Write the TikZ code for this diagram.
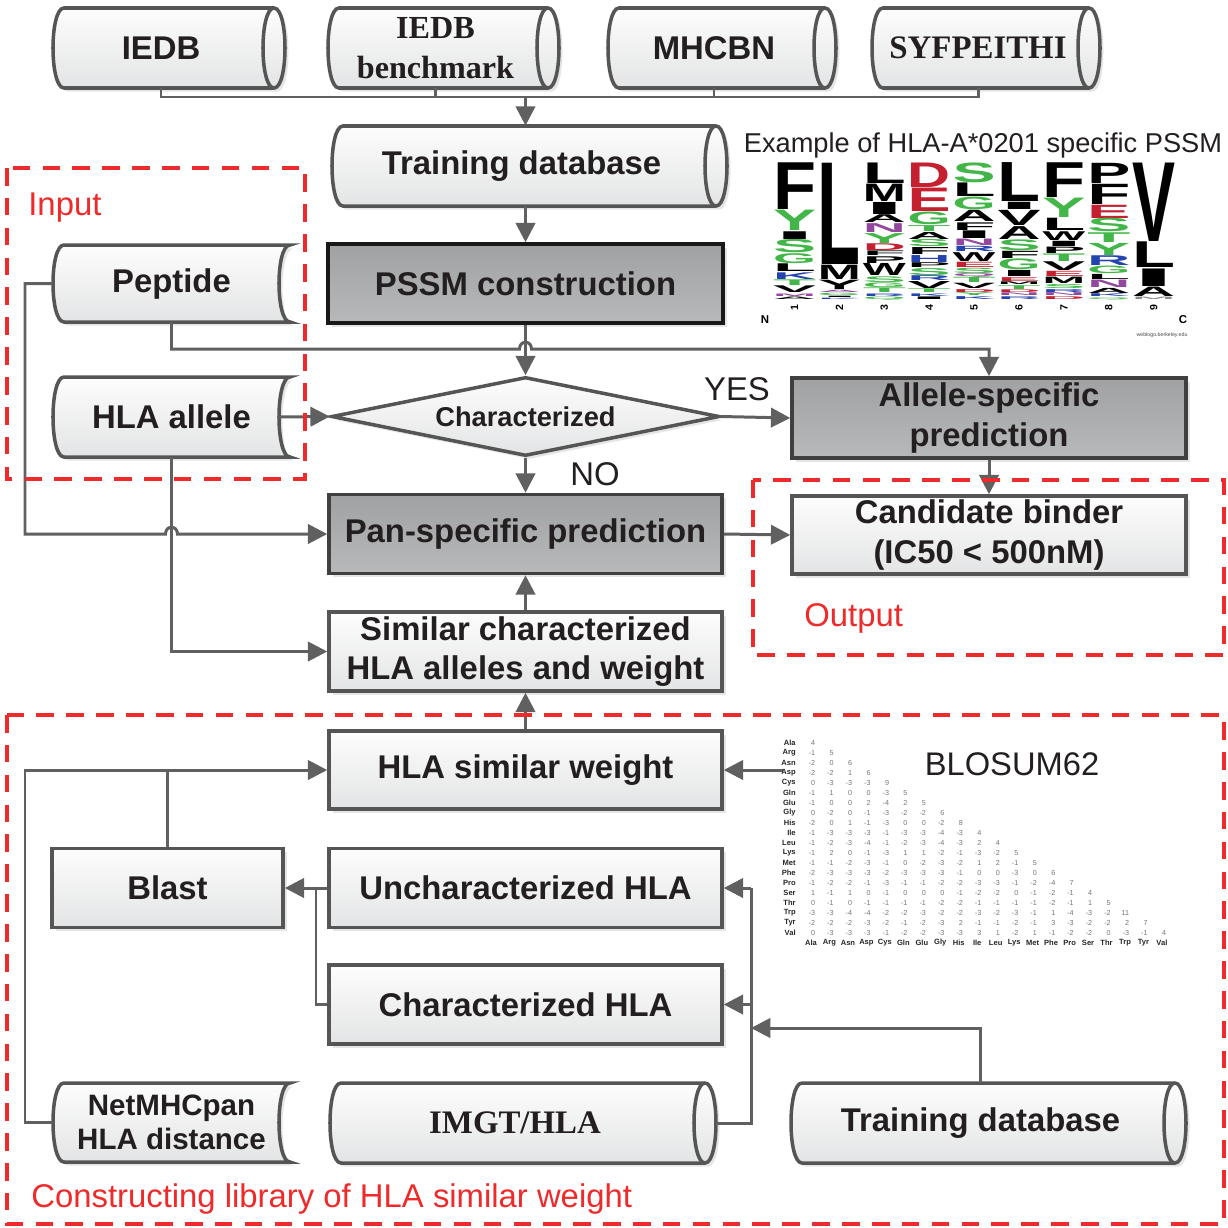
\documentclass[tikz,border=0pt]{standalone}
\usepackage{fontspec}
\setmainfont{Liberation Sans}
\newfontfamily\serifb{Liberation Serif}
\newfontfamily\logof{Liberation Sans}
\usepackage{graphicx}
\usetikzlibrary{arrows.meta,shadows,shapes.geometric}
\newlength\pxu
\setlength\pxu{0.02cm}
\definecolor{lineg}{HTML}{606060}
\definecolor{boxb}{HTML}{555555}
\definecolor{redd}{HTML}{EE2A2A}
\definecolor{txt}{HTML}{231F20}
\definecolor{lgA}{HTML}{FDFDFD}
\definecolor{lgB}{HTML}{E3E4E5}
\definecolor{dkA}{HTML}{A0A1A3}
\definecolor{dkB}{HTML}{B8B9BB}
\definecolor{lk}{HTML}{000000}
\definecolor{lgn}{HTML}{43B649}
\definecolor{lr}{HTML}{C42030}
\definecolor{lb}{HTML}{2343AE}
\definecolor{lp}{HTML}{93479E}
\definecolor{lgy}{HTML}{888888}
\definecolor{matg}{HTML}{777777}
\newcommand\btxt{\fontsize{18.7}{22.5}\selectfont\bfseries}
\newcommand\rtxt{\fontsize{18.7}{22.5}\selectfont}
\tikzset{
 conn/.style={draw=lineg, line width=1.7pt},
 arr/.style={conn, -{Triangle[length=11pt,width=11pt]}},
 shad/.style={drop shadow={fill=black!25, opacity=0.4, shadow xshift=2pt, shadow yshift=-2pt}},
 lightbox/.style={draw=boxb, line width=2pt, top color=lgA, bottom color=lgB, shad},
 darkbox/.style={draw=boxb!75!black, line width=2pt, top color=dkA, bottom color=dkB, shad},
 boxtxt/.style={font=\btxt, text=txt, align=center},
 redbox/.style={draw=redd, line width=2.2pt, dash pattern=on 10pt off 7pt},
 redtxt/.style={font=\rtxt, text=redd, inner sep=0},
 mlab/.style={font=\fontsize{4.3}{5}\selectfont\bfseries, text=black!85, inner sep=0},
 mval/.style={font=\fontsize{4.1}{5}\selectfont, text=matg, inner sep=0}
}
% horizontal cylinder: name, x1, y1, x2, y2, font, text
\newcommand\cyl[7]{%
 \path[lightbox] (#2+11,#3) -- (#4-11,#3) .. controls (#4+3.67,#3) and (#4+3.67,#5) .. (#4-11,#5) -- (#2+11,#5) .. controls (#2-3.67,#5) and (#2-3.67,#3) .. (#2+11,#3) -- cycle;
 \draw[draw=boxb, line width=2pt] (#4-11,#3) .. controls (#4-25.67,#3) and (#4-25.67,#5) .. (#4-11,#5);
 \node[boxtxt, font=#6, inner sep=0, minimum width={(#4-#2-16)*0.02cm}, minimum height={(#5-#3)*0.02cm}] (#1) at ({(#2+#4-16)/2},{(#3+#5)/2}) {#7};
}
% stored data shape: name, x1, y1, x2, y2, font, text
\newcommand\sdata[7]{%
 \path[lightbox] (#2+11,#3) -- (#4,#3) .. controls (#4-14.67,#3) and (#4-14.67,#5) .. (#4,#5) -- (#2+11,#5) .. controls (#2-3.67,#5) and (#2-3.67,#3) .. (#2+11,#3) -- cycle;
 \node[boxtxt, font=#6, inner sep=0, minimum width={(#4-#2)*0.02cm}, minimum height={(#5-#3)*0.02cm}] (#1) at ({(#2+#4)/2},{(#3+#5)/2}) {#7};
}
% logo column
\newcommand\logocol[2]{%
 \gdef\lacc{0}%
 \foreach \lhh/\lcol/\llet in {#2}{\pgfmathsetmacro\ltmp{\lacc+\lhh}\xdef\lacc{\ltmp}}%
 \pgfmathsetmacro\lsc{137/\lacc}%
 \gdef\lyy{163}%
 \foreach \lhh/\lcol/\llet [count=\li] in {#2}{%
  \pgfmathsetmacro\lhgt{max(\lhh*\lsc-0.7,0.6)}%
  \node[inner sep=0, outer sep=0, anchor=north west] (lg#1-\li) at (#1,\lyy) {\resizebox{43\pxu}{\lhgt\pxu}{\color{\lcol}\logof\bfseries\llet}};%
  \pgfmathsetmacro\ltmp{\lyy+\lhh*\lsc}\xdef\lyy{\ltmp}%
 }%
}
\begin{document}
\begin{tikzpicture}[x=0.02cm, y=-0.02cm]
\fill[white] (0,0) rectangle (1228,1228);
\useasboundingbox (0,0) rectangle (1228,1228);

% ---- top databases
\cyl{iedb}{53}{8}{285}{88}{\btxt}{IEDB}
\cyl{bench}{328}{8}{559}{88}{\serifb\fontsize{18.3}{23}\selectfont\bfseries}{IEDB\\benchmark}
\cyl{mhcbn}{608}{8}{836}{88}{\btxt}{MHCBN}
\cyl{syf}{872}{8}{1100}{88}{\serifb\fontsize{18.7}{22}\selectfont\bfseries}{SYFPEITHI}
\cyl{train}{332}{126}{727}{206}{\btxt}{Training database}

% ---- main column
\node[darkbox, draw=black!90, boxtxt, inner sep=0, minimum width=395\pxu, minimum height=79\pxu] (pssm) at (525.5,283.5) {PSSM construction};
\node[diamond, aspect=4.9, minimum width=388\pxu, minimum height=79\pxu, inner sep=0, draw=boxb, line width=2pt, top color=lgA, bottom color=lgB, shad, font=\fontsize{15.5}{18}\selectfont\bfseries, text=txt] (dia) at (525.5,416.5) {Characterized};
\node[darkbox, boxtxt, inner sep=0, minimum width=394\pxu, minimum height=80\pxu] (allele) at (989,418) {Allele-specific\\prediction};
\node[darkbox, boxtxt, inner sep=0, minimum width=393\pxu, minimum height=79\pxu] (pan) at (525.5,534) {Pan-specific prediction};
\node[lightbox, boxtxt, inner sep=0, minimum width=394\pxu, minimum height=78\pxu] (cand) at (989,535) {Candidate binder\\(IC50 < 500nM)};
\node[lightbox, boxtxt, inner sep=0, minimum width=393\pxu, minimum height=79\pxu] (sim) at (525.5,651.5) {Similar characterized\\HLA alleles and weight};
\node[lightbox, boxtxt, inner sep=0, minimum width=393\pxu, minimum height=78\pxu] (hsw) at (525.5,770) {HLA similar weight};
\node[lightbox, boxtxt, inner sep=0, minimum width=393\pxu, minimum height=79\pxu] (unc) at (525.5,888) {Uncharacterized HLA};
\node[lightbox, boxtxt, inner sep=0, minimum width=393\pxu, minimum height=79\pxu] (chr) at (525.5,1004.5) {Characterized HLA};
\node[lightbox, boxtxt, inner sep=0, minimum width=231\pxu, minimum height=79\pxu] (blast) at (167.5,888) {Blast};

% ---- inputs and bottom stores
\sdata{pep}{53}{245}{290}{322}{\btxt}{Peptide}
\sdata{hla}{53}{377}{290}{457}{\btxt}{HLA allele}
\sdata{net}{53}{1083}{290}{1162}{\fontsize{16.8}{19}\selectfont\bfseries}{NetMHCpan\\HLA distance}
\cyl{imgt}{330}{1083}{716}{1163}{\serifb\fontsize{18.7}{22}\selectfont\bfseries}{IMGT/HLA}
\cyl{trn2}{791}{1083}{1186}{1163}{\btxt}{Training database}

% ---- helper coordinates
\coordinate (bus) at (0,97);
\coordinate (py) at (0,349);
\coordinate (lx) at (25,0);
\coordinate (jx) at (316,0);
\coordinate (rx) at (751,0);
\coordinate (tj) at (751,1028);
\coordinate (blos) at (783,0);

% ---- connectors
\draw[conn] (iedb.south) |- (bus -| syf.south) -- (syf.south);
\draw[conn] (bench.south) -- (bench.south |- bus);
\draw[conn] (mhcbn.south) -- (mhcbn.south |- bus);
\draw[arr] (bus -| pssm.north) -- (pssm.north |- train.north);
\draw[arr] (pssm.north |- train.south) -- (pssm.north);
\draw[arr] (pssm.south) -- (dia.north);
\draw[arr] (pep.south) -- (pep.south |- py) -- (519.5,349) .. controls (519.5,340) and (531.5,340) .. (531.5,349) -- (allele.north |- py) -- (allele.north);
\draw[arr] ([xshift=-0.24cm]hla.east) -- (dia.west);
\draw[arr] (dia.east) -- (allele.west);
\draw[arr] (dia.south) -- (pan.north);
\draw[arr] (allele.south) -- (cand.north);
\draw[arr] (pep.west) -- (pep.west -| lx) -- (lx |- pan.west) -- (165.5,534) .. controls (165.5,525) and (177.5,525) .. (177.5,534) -- (pan.west);
\draw[arr] (hla.south) -- (hla.south |- sim.west) -- (sim.west);
\draw[arr] (pan.east) -- (cand.west);
\draw[arr] (sim.north) -- (pan.south);
\draw[arr] (hsw.north) -- (sim.south);
\draw[arr] (hsw.east -| blos) -- (hsw.east);
\draw[arr] (net.west) -| (lx |- hsw.west) -- (hsw.west);
\draw[conn] (blast.north) -- (blast.north |- hsw.west);
\draw[arr] (unc.west) -- (blast.east);
\draw[conn] (chr.west) -- (chr.west -| jx) -- (jx |- unc.west);
\draw[conn] ([xshift=0.32cm]imgt.east) -| (rx |- unc.east);
\draw[arr] (rx |- unc.east) -- (unc.east);
\draw[arr] (rx |- chr.east) -- (chr.east);
\draw[arr] (trn2.north) |- (tj);

% ---- labels
\node[font=\rtxt, text=txt, inner sep=0, anchor=base] (yes) at (737,400) {YES};
\node[font=\rtxt, text=txt, inner sep=0, anchor=base] (no) at (595,485) {NO};
\node[font=\fontsize{15.5}{18}\selectfont, text=txt, inner sep=0, anchor=base] (ttl) at (983,152) {Example of HLA-A*0201 specific PSSM};
\node[font=\fontsize{18.6}{22}\selectfont, text=txt, inner sep=0, anchor=base] (blt) at (1012,775) {BLOSUM62};

% ---- sequence logo
\logocol{773}{45/lk/F, 20/lgn/Y, 8/lk/I, 13/lgn/S, 10/lgn/G, 8/lk/L, 7/lb/K, 6/lgn/T, 7/lk/V, 3/lp/M, 3/lk/A}
\logocol{817.9}{102/lk/L, 15/lk/M, 10/lk/Y, 3/lp/A, 3/lgn/G, 2/lk/I, 2/lb/K}
\logocol{862.8}{20/lk/L, 17/lk/M, 12/lk/I, 8/lk/A, 9/lp/N, 10/lgn/Y, 7/lr/D, 5/lk/F, 7/lk/P, 12/lk/W, 6/lgn/S, 5/lgn/G, 5/lgn/T, 3/lb/R, 3/lgn/Q}
\logocol{907.7}{23/lr/D, 22/lr/E, 12/lgn/G, 6/lgn/T, 7/lk/A, 7/lgn/S, 7/lk/F, 7/lb/H, 5/lk/P, 7/lgn/S, 5/lb/R, 7/lk/V, 4/lgn/T, 3/lb/K, 3/lk/I}
\logocol{952.6}{17/lgn/S, 12/lk/L, 11/lgn/G, 10/lk/A, 7/lk/F, 7/lk/I, 6/lp/N, 5/lb/R, 8/lk/W, 5/lr/E, 5/lgn/S, 3/lp/Q, 5/lgn/T, 5/lk/V, 3/lr/D, 3/lgn/Y, 3/lb/K}
\logocol{997.5}{35/lk/L, 7/lk/I, 14/lk/V, 12/lk/A, 10/lgn/S, 7/lk/F, 10/lgn/G, 6/lk/I, 4/lr/E, 3/lk/M, 4/lgn/T, 3/lr/D, 3/lp/N, 3/lb/R}
\logocol{1042.4}{30/lk/F, 17/lgn/Y, 11/lk/L, 8/lk/W, 5/lk/I, 6/lk/P, 7/lgn/T, 8/lk/V, 5/lr/E, 6/lk/M, 4/lgn/S, 3/lb/R, 3/lp/N, 3/lr/D}
\logocol{1087.3}{18/lk/P, 18/lk/F, 12/lr/E, 12/lgn/S, 9/lgn/T, 11/lgn/Y, 9/lb/R, 7/lgn/G, 5/lk/L, 7/lp/N, 5/lk/A, 3/lb/K, 2/lgn/Q}
\logocol{1132.2}{78/lk/V, 26/lk/L, 18/lk/I, 10/lk/A, 3/lgy/M}
\foreach \i in {1,...,9}{
 \node[rotate=90, font=\fontsize{6}{6}\selectfont\bfseries, inner sep=0] (pos\i) at ({794.5+(\i-1)*44.9},308) {\i};
}
\node[font=\fontsize{6.5}{7}\selectfont\bfseries, inner sep=0] (nlab) at (765,320) {N};
\node[font=\fontsize{6.5}{7}\selectfont\bfseries, inner sep=0] (clab) at (1183,320) {C};
\node[font=\fontsize{3}{3.5}\selectfont, text=black!70, inner sep=0] (wlab) at (1162,335) {weblogo.berkeley.edu};

% ---- BLOSUM62 matrix
\foreach \lab/\vals [count=\rw] in {Ala/{4},Arg/{-1,5},Asn/{-2,0,6},Asp/{-2,-2,1,6},Cys/{0,-3,-3,-3,9},Gln/{-1,1,0,0,-3,5},Glu/{-1,0,0,2,-4,2,5},Gly/{0,-2,0,-1,-3,-2,-2,6},His/{-2,0,1,-1,-3,0,0,-2,8},Ile/{-1,-3,-3,-3,-1,-3,-3,-4,-3,4},Leu/{-1,-2,-3,-4,-1,-2,-3,-4,-3,2,4},Lys/{-1,2,0,-1,-3,1,1,-2,-1,-3,-2,5},Met/{-1,-1,-2,-3,-1,0,-2,-3,-2,1,2,-1,5},Phe/{-2,-3,-3,-3,-2,-3,-3,-3,-1,0,0,-3,0,6},Pro/{-1,-2,-2,-1,-3,-1,-1,-2,-2,-3,-3,-1,-2,-4,7},Ser/{1,-1,1,0,-1,0,0,0,-1,-2,-2,0,-1,-2,-1,4},Thr/{0,-1,0,-1,-1,-1,-1,-2,-2,-1,-1,-1,-1,-2,-1,1,5},Trp/{-3,-3,-4,-4,-2,-2,-3,-2,-2,-3,-2,-3,-1,1,-4,-3,-2,11},Tyr/{-2,-2,-2,-3,-2,-1,-2,-3,2,-1,-1,-2,-1,3,-3,-2,-2,2,7},Val/{0,-3,-3,-3,-1,-2,-2,-3,-3,3,1,-2,1,-1,-2,-2,0,-3,-1,4}}{
 \node[mlab, anchor=east] (bl\rw) at (796,{743+(\rw-1)*10}) {\lab};
 \node[mlab] (bc\rw) at ({811+(\rw-1)*18.47},943) {\lab};
 \foreach \v [count=\cc] in \vals {
  \node[mval, anchor=east] (bm\rw-\cc) at ({815.5+(\cc-1)*18.47},{743+(\rw-1)*10}) {\v};
 }
}

% ---- red regions
\draw[redbox] (7,168) rectangle (305,479);
\draw[redbox] (753,480) rectangle (1224,655);
\draw[redbox] (7,715) rectangle (1224,1224);
\node[redtxt, anchor=base west] (inlab) at (28,215) {Input};
\node[redtxt, anchor=base west] (outlab) at (804,626) {Output};
\node[redtxt, anchor=base west] (conlab) at (31,1207) {Constructing library of HLA similar weight};
\end{tikzpicture}
\end{document}
